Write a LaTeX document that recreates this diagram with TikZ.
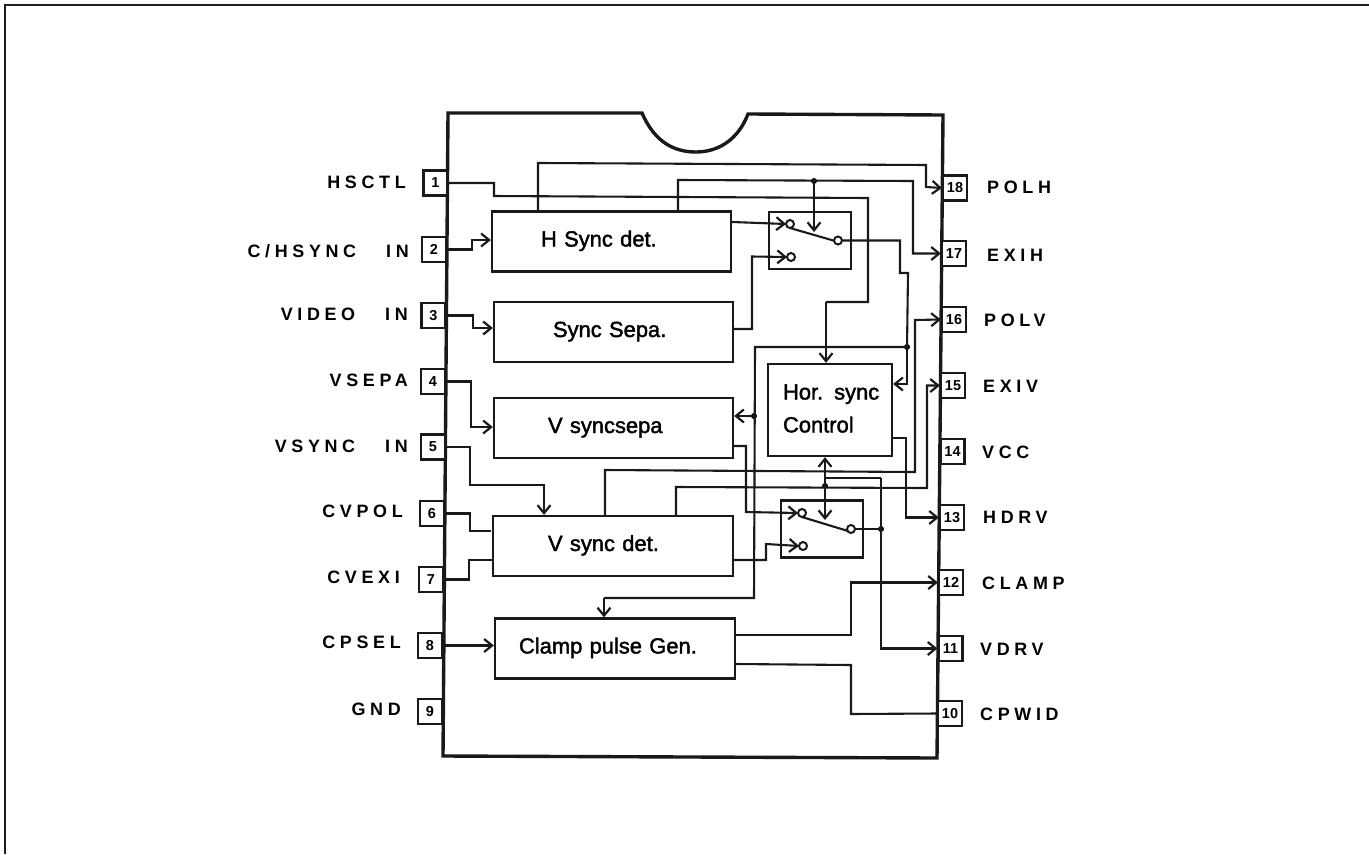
\documentclass[tikz,border=0pt]{standalone}
\usepackage{fontspec}
\setmainfont{Liberation Sans}
\newfontfamily\pinlab[LetterSpace=26]{Liberation Sans Bold}
\newfontfamily\numlab{Liberation Sans Bold}
\newfontfamily\blocklab[FakeBold=1.8]{Liberation Sans}
\newcommand{\wsp}{\hspace{30bp}}
\usetikzlibrary{arrows.meta}
\tikzset{
  x=1bp,y=-1bp,
  wire/.style={line width=2.1pt,line join=miter,color=black!90},
  arr/.style={wire,-{Straight Barb[length=8pt,width=13pt,line width=2.2pt]}},
  block/.style={draw=black!90,line width=2.3pt,inner sep=0pt,text width=#1,minimum height=60bp,align=left,
    text height=14bp,text depth=4bp,font=\blocklab\fontsize{22}{33}\selectfont},
  switchbox/.style={draw=black!90,line width=2.3pt,inner sep=0pt,minimum width=82bp,minimum height=57bp},
  pinbox/.style={draw=black!90,line width=2.2pt,fill=white,inner sep=0pt,minimum width=24bp,minimum height=25bp,font=\numlab\fontsize{14.5}{15}\selectfont},
  llab/.style={anchor=base east,inner sep=0pt,font=\pinlab\fontsize{18}{20}\selectfont},
  rlab/.style={anchor=base west,inner sep=0pt,font=\pinlab\fontsize{18}{20}\selectfont},
  jdot/.style={circle,fill=black,inner sep=0pt,minimum size=6bp},
  contact/.style={circle,draw=black!90,fill=white,line width=2pt,inner sep=0pt,minimum size=8bp},
}
\begin{document}
\begin{tikzpicture}
\useasboundingbox (0,0) rectangle (1369,854);
% frame
\draw[line width=3pt,black!88] (5,854) -- (5,5) -- (1369,5);
% package
\draw[line width=3.4pt,black!90,line join=miter] (642,113) .. controls (655,143) and (675,152) .. (696,152) .. controls (718,152) and (738,140) .. (748,114) -- (943,115) -- (937,758) -- (443,756) -- (448,113) -- cycle;
% pins left
\node[pinbox] (p1) at (435.5,183) {1};
\node[pinbox] (p2) at (434,249.5) {2};
\node[pinbox] (p3) at (433.5,315.5) {3};
\node[pinbox] (p4) at (433,381.5) {4};
\node[pinbox] (p5) at (433,447) {5};
\node[pinbox] (p6) at (432,513.5) {6};
\node[pinbox] (p7) at (431,579.5) {7};
\node[pinbox] (p8) at (430,645.5) {8};
\node[pinbox] (p9) at (430,711.5) {9};
% pins right
\node[pinbox] (p18) at (955,188) {18};
\node[pinbox] (p17) at (954,253.5) {17};
\node[pinbox] (p16) at (954,319.5) {16};
\node[pinbox] (p15) at (953,385.5) {15};
\node[pinbox] (p14) at (952.5,451.5) {14};
\node[pinbox] (p13) at (952,517.5) {13};
\node[pinbox] (p12) at (951,582.5) {12};
\node[pinbox] (p11) at (950.5,648.5) {11};
\node[pinbox] (p10) at (950,713.5) {10};
% labels
\node[llab] (l1) at (406,188) {HSCTL};
\node[llab] (l2) at (409,257) {C/HSYNC\wsp IN};
\node[llab] (l3) at (408,320) {VIDEO\wsp IN};
\node[llab] (l4) at (408,386) {VSEPA};
\node[llab] (l5) at (408,452) {VSYNC\wsp IN};
\node[llab] (l6) at (403,517) {CVPOL};
\node[llab] (l7) at (400,583) {CVEXI};
\node[llab] (l8) at (401,648) {CPSEL};
\node[llab] (l9) at (401,715) {GND};
\node[rlab] (r18) at (987,193) {POLH};
\node[rlab] (r17) at (987,261) {EXIH};
\node[rlab] (r16) at (984,326) {POLV};
\node[rlab] (r15) at (983,392) {EXIV};
\node[rlab] (r14) at (982,458) {VCC};
\node[rlab] (r13) at (983,523) {HDRV};
\node[rlab] (r12) at (982,589) {CLAMP};
\node[rlab] (r11) at (980,655) {VDRV};
\node[rlab] (r10) at (980,720) {CPWID};
% blocks
\node[block=239bp] (hsd) at (611.5,241.5) {\hspace*{49bp}H Sync det.};
\node[block=239bp] (ssp) at (613.5,332) {\hspace*{59bp}Sync Sepa.};
\node[block=239bp] (vsp) at (613.5,428) {\hspace*{54bp}V syncsepa};
\node[block=240bp] (vsd) at (613,546) {\hspace*{55bp}V sync det.};
\node[block=240bp] (cpg) at (615,648.5) {\hspace*{24bp}Clamp pulse Gen.};
\node[block=124bp,minimum height=92bp,text height=14bp,text depth=35bp] (hor) at (830,410) {\hspace*{15bp}Hor. sync\\\hspace*{15bp}Control};
\node[switchbox] (sw1) at (810,240.5) {};
\node[switchbox] (sw2) at (822,529) {};
% junctions and contacts
\node[jdot] (j1) at (814,181) {};
\node[jdot] (j2) at (907,347) {};
\node[jdot] (j3) at (754,416) {};
\node[jdot] (j4) at (825,486) {};
\node[jdot] (j5) at (881,529) {};
\coordinate (gap6) at (491,531);
\coordinate (gap10) at (736,664);
\coordinate (tip1) at (814,232);
\coordinate (tip2) at (825,520);
\coordinate (c1ap) at (786,224);
\coordinate (c1bp) at (787,257);
\coordinate (c2ap) at (798,513);
\coordinate (c2bp) at (799,546);
% wires, left
\draw[wire] (p1.east) -- (494,183) -- (494,196) -- (868,198) -- (868,302) -- (826,302) coordinate (w1);
\draw[arr] (w1) -- (826,0 |- hor.north);
\draw[arr] (p2.east) -- (472,249.5) -- (472,240) -- (492,240 -| hsd.west);
\draw[arr] (p3.east) -- (473,315.5) -- (473,328) -- (494,328 -| ssp.west);
\draw[arr] (p4.east) -- (471,381.5) -- (471,427) -- (494,427 -| vsp.west);
\draw[arr] (p5.east) -- (470,447) -- (470,485) -- (544,485) -- (544,0 |- vsd.north);
\draw[wire] (p6.east) -- (470,513.5) -- (470,531) -- (gap6);
\draw[wire] (p7.east) -- (469,579.5) -- (469,560) -- (493,560 -| vsd.west);
\draw[arr] (p8.east) -- (cpg.west |- p8.east);
% H sync outputs
\draw[arr] (538,0 |- hsd.north) -- (538,163) -- (926,165) -- (926,187) -- (p18.west);
\draw[arr] (678,0 |- hsd.north) -- (678,180) -- (913,181) -- (913,253.5) -- (p17.west);
\draw[arr] (hsd.east |- 0,222) -- (c1ap);
\draw[arr] (ssp.east |- 0,329) -- (752,329) -- (752,256.5) -- (c1bp);
\draw[arr] (j1.center) -- (tip1);
% switch 1 output
\draw[wire] (790,228) -- (835,241);
\draw[wire] (838,240.5) -- (900,240.5) -- (900,273) -- (908,273) -- (907,347) -- (j2.center);
\draw[arr] (j2.center) -- (907,384) -- (hor.east |- 0,384);
\draw[wire] (j2.center) -- (755,347) -- (754,598) -- (604,598) coordinate (w2);
\draw[arr] (w2) -- (604,0 |- cpg.north);
\draw[arr] (j3.center) -- (vsp.east |- j3.center);
% V sync
\draw[arr] (vsp.east |- 0,446) -- (746,446) -- (746,512) -- (c2ap);
\draw[arr] (vsd.east |- 0,560) -- (766,560) -- (766,544) -- (c2bp);
\draw[arr] (605,0 |- vsd.north) -- (605,470) -- (915,472) -- (915,320) -- (p16.west);
\draw[arr] (676,0 |- vsd.north) -- (676,487) -- (927,488) -- (927,385.5) -- (p15.west);
\draw[arr] (j4.center) -- (tip2);
\draw[wire] (802,517) -- (848,531);
\draw[wire] (851,529) -- (j5.center);
\draw[arr] (881,478) -- (825,478) -- (825,0 |- hor.south);
\draw[wire] (825,478) -- (j4.center);
\draw[arr] (881,478) -- (881,648.5) -- (p11.west);
\draw[arr] (hor.east |- 0,438) -- (906,438) -- (906,517.5) -- (p13.west);
% clamp
\draw[arr] (cpg.east |- 0,635) -- (851,635) -- (851,582.5) -- (p12.west);
\draw[wire] (gap10) -- (851,665) -- (851,714) -- (p10.west);
% contacts on top of wires
\node[contact] (c1a) at (790,224) {};
\node[contact] (c1b) at (791,257) {};
\node[contact] (c1o) at (838,240.5) {};
\node[contact] (c2a) at (802,513) {};
\node[contact] (c2b) at (803,546) {};
\node[contact] (c2o) at (851,529) {};
\end{tikzpicture}
\end{document}
